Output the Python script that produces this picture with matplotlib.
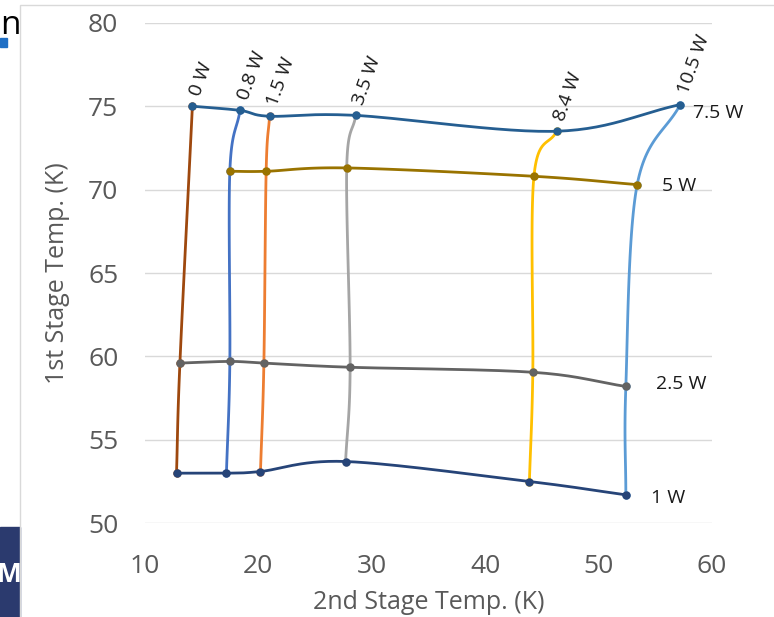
import numpy as np
import matplotlib.pyplot as plt
from matplotlib.patches import Rectangle

# 2nd stage loads (vertical curves) and 1st stage loads (horizontal curves)
cargas_2da = ['0 W', '0.8 W', '1.5 W', '3.5 W', '8.4 W', '10.5 W']
cargas_1ra = ['1 W', '2.5 W', '5 W', '7.5 W']

# temperaturas (2da etapa, 1ra etapa), None = sin punto
t2_1w = [12.8, 17.2, 20.2, 27.7, 43.9, 52.4]
t1_1w = [53.0, 53.0, 53.1, 53.7, 52.5, 51.7]
t2_25w = [13.1, 17.5, 20.5, 28.1, 44.2, 52.4]
t1_25w = [59.6, 59.7, 59.6, 59.35, 59.05, 58.2]
t2_5w = [None, 17.5, 20.7, 27.8, 44.3, 53.4]
t1_5w = [None, 71.1, 71.1, 71.3, 70.8, 70.3]
t2_75w = [14.2, 18.4, 21.0, 28.6, 46.3, 57.2]
t1_75w = [75.0, 74.75, 74.4, 74.45, 73.5, 75.1]

col_2da = ['#9E480E', '#4472C4', '#ED7D31', '#A5A5A5', '#FFC000', '#5B9BD5']
col_1ra = ['#264478', '#636363', '#997300', '#255E91']
# desplazamiento (px) de las etiquetas de la derecha
despl_1ra = [(25, -3), (30, 2), (25, -1), (13, -8)]

plt.rcParams['font.family'] = ['Open Sans', 'DejaVu Sans']


def suavizar(xs, ys, n=30):
    # curva tipo Catmull-Rom para imitar las lineas suavizadas de Excel
    p = np.column_stack([xs, ys]).astype(float)
    if len(p) < 3:
        return p[:, 0], p[:, 1]
    p = np.vstack([2 * p[0] - p[1], p, 2 * p[-1] - p[-2]])
    out = []
    for i in range(1, len(p) - 2):
        p0, p1, p2, p3 = p[i - 1], p[i], p[i + 1], p[i + 2]
        t = np.linspace(0, 1, n)[:, None]
        c = 0.5 * ((2 * p1) + (-p0 + p2) * t + (2 * p0 - 5 * p1 + 4 * p2 - p3) * t ** 2
                   + (-p0 + 3 * p1 - 3 * p2 + p3) * t ** 3)
        out.append(c)
    c = np.vstack(out)
    return c[:, 0], c[:, 1]


fig = plt.figure(figsize=(7.74, 6.17), dpi=100)
ax = fig.add_axes([0.187, 0.152, 0.733, 0.811])

filas_x = [t2_1w, t2_25w, t2_5w, t2_75w]
filas_y = [t1_1w, t1_25w, t1_5w, t1_75w]

# curvas verticales (carga de 2da etapa constante)
for j, (lab, c) in enumerate(zip(cargas_2da, col_2da)):
    xs = [fx[j] for fx in filas_x if fx[j] is not None]
    ys = [fy[j] for fy in filas_y if fy[j] is not None]
    sx, sy = suavizar(xs, ys)
    ax.plot(sx, sy, color=c, lw=2.0, zorder=2, solid_capstyle='round')
    ax.plot(xs, ys, 'o', color=c, ms=5, zorder=3)

# curvas horizontales (carga de 1ra etapa constante)
for fx, fy, c in zip(filas_x, filas_y, col_1ra):
    xs = [a for a in fx if a is not None]
    ys = [b for b in fy if b is not None]
    sx, sy = suavizar(xs, ys)
    ax.plot(sx, sy, color=c, lw=2.0, zorder=4, solid_capstyle='round')
    ax.plot(xs, ys, 'o', color=c, ms=5, zorder=5)

# etiquetas de carga 2da etapa (rotadas, arriba)
for j, lab in enumerate(cargas_2da):
    ax.annotate(lab, (t2_75w[j], t1_75w[j]), xytext=(2, 8), textcoords='offset points',
                rotation=70, ha='left', va='center', fontsize=14, color='#1a1a1a',
                rotation_mode='anchor')

# etiquetas de carga 1ra etapa (a la derecha)
for fx, fy, lab, d in zip(filas_x, filas_y, cargas_1ra, despl_1ra):
    ax.annotate(lab, (fx[-1], fy[-1]), xytext=(d[0] * 0.72, d[1] * 0.72), textcoords='offset points',
                ha='left', va='center', fontsize=14, color='#1a1a1a')

ax.set_xlim(10, 60)
ax.set_ylim(50, 80)
ax.set_xticks(range(10, 61, 10))
ax.set_yticks(range(50, 81, 5))
ax.grid(True, axis='y', color='#D9D9D9', lw=1)
ax.set_axisbelow(True)
for s in ax.spines.values():
    s.set_visible(False)
ax.tick_params(length=0, labelsize=19, labelcolor='#595959')
ax.tick_params(axis='x', pad=22)
ax.tick_params(axis='y', pad=19)
ax.set_xlabel('2nd Stage Temp. (K)', fontsize=18, color='#595959', labelpad=8)
ax.set_ylabel('1st Stage Temp. (K)', fontsize=18, color='#595959', labelpad=13)

# borde del area del grafico y restos de la diapositiva
fig.patches.append(Rectangle((20 / 774, -0.01), 1.0, 1 - 5 / 617 + 0.01, transform=fig.transFigure,
                             fill=False, edgecolor='#D9D9D9', lw=1))
caja = Rectangle((0, 0), 20 / 774, 90 / 617, transform=fig.transFigure,
                 color='#2B3A6E', zorder=0)
fig.patches.append(caja)
t = fig.text(-3 / 774, 1 - 575 / 617, 'MI', color='white', fontsize=19, fontweight='bold',
             va='center', ha='left')
t.set_clip_path(caja)
fig.patches.append(Rectangle((0, 1 - 47 / 617), 7 / 774, 9 / 617, transform=fig.transFigure,
                             color='#1F6FC5'))
fig.text(0, 1 - 25 / 617, 'n', color='black', fontsize=24, va='center', ha='left')

fig.savefig('out.png', dpi=100)
